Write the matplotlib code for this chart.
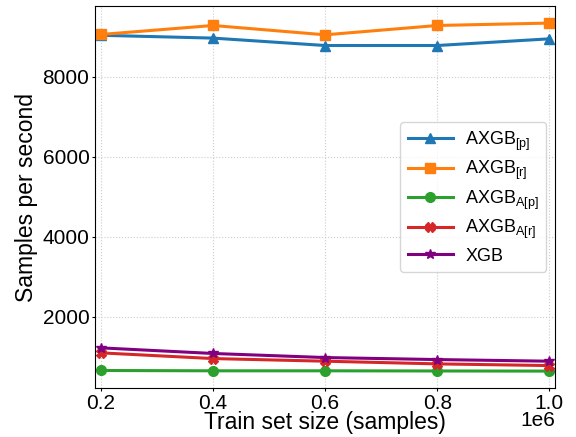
import matplotlib
matplotlib.use("Agg")
import matplotlib.pyplot as plt

plt.rcParams['font.family'] = ['Liberation Sans', 'DejaVu Sans']
plt.rcParams['mathtext.default'] = 'regular'

train_sizes = [200000, 400000, 600000, 800000, 1000000]
axgb_p = [9030, 8960, 8775, 8775, 8942]
axgb_r = [9050, 9275, 9042, 9275, 9335]
axgb_ap = [660, 652, 652, 648, 645]
axgb_ar = [1100, 958, 892, 825, 783]
xgb = [1225, 1085, 983, 933, 892]

series = [
    (axgb_p, r'AXGB$_{[p]}$', '^', 'tab:blue'),
    (axgb_r, r'AXGB$_{[r]}$', 's', 'tab:orange'),
    (axgb_ap, r'AXGB$_{A[p]}$', 'o', 'tab:green'),
    (axgb_ar, r'AXGB$_{A[r]}$', 'X', 'tab:red'),
    (xgb, 'XGB', '*', 'purple'),
]

fig = plt.figure(figsize=(5.76, 4.37), dpi=100)
ax = fig.add_axes([0.165, 0.111, 0.799, 0.876])
for vals, lab, mk, col in series:
    ax.plot(train_sizes, vals, marker=mk, color=col, label=lab, linewidth=2.2, markersize=7)

ax.margins(x=0.013)
ax.grid(True, linestyle=':', color='#cccccc', linewidth=0.8)
ax.set_yticks([2000, 4000, 6000, 8000])
ax.tick_params(labelsize=15, length=2.5, pad=1.5)

ax.set_ylabel("Samples per second", fontsize=16.5, labelpad=3)
ax.set_xlabel("Train set size (samples)", fontsize=16.5)
ax.xaxis.set_label_coords(0.5, -0.06)
ax.xaxis.label.set_va('top')

# scale factor shown at the right, on the label's line
ax.xaxis.get_offset_text().set_visible(False)
ax.text(1.0, -0.06, '1e6', transform=ax.transAxes, ha='right', va='top', fontsize=15)

ax.legend(loc='center right', fontsize=13, handlelength=2.5, borderpad=0.4,
          labelspacing=0.35, handletextpad=0.7)

fig.savefig("out.png", dpi=100)
